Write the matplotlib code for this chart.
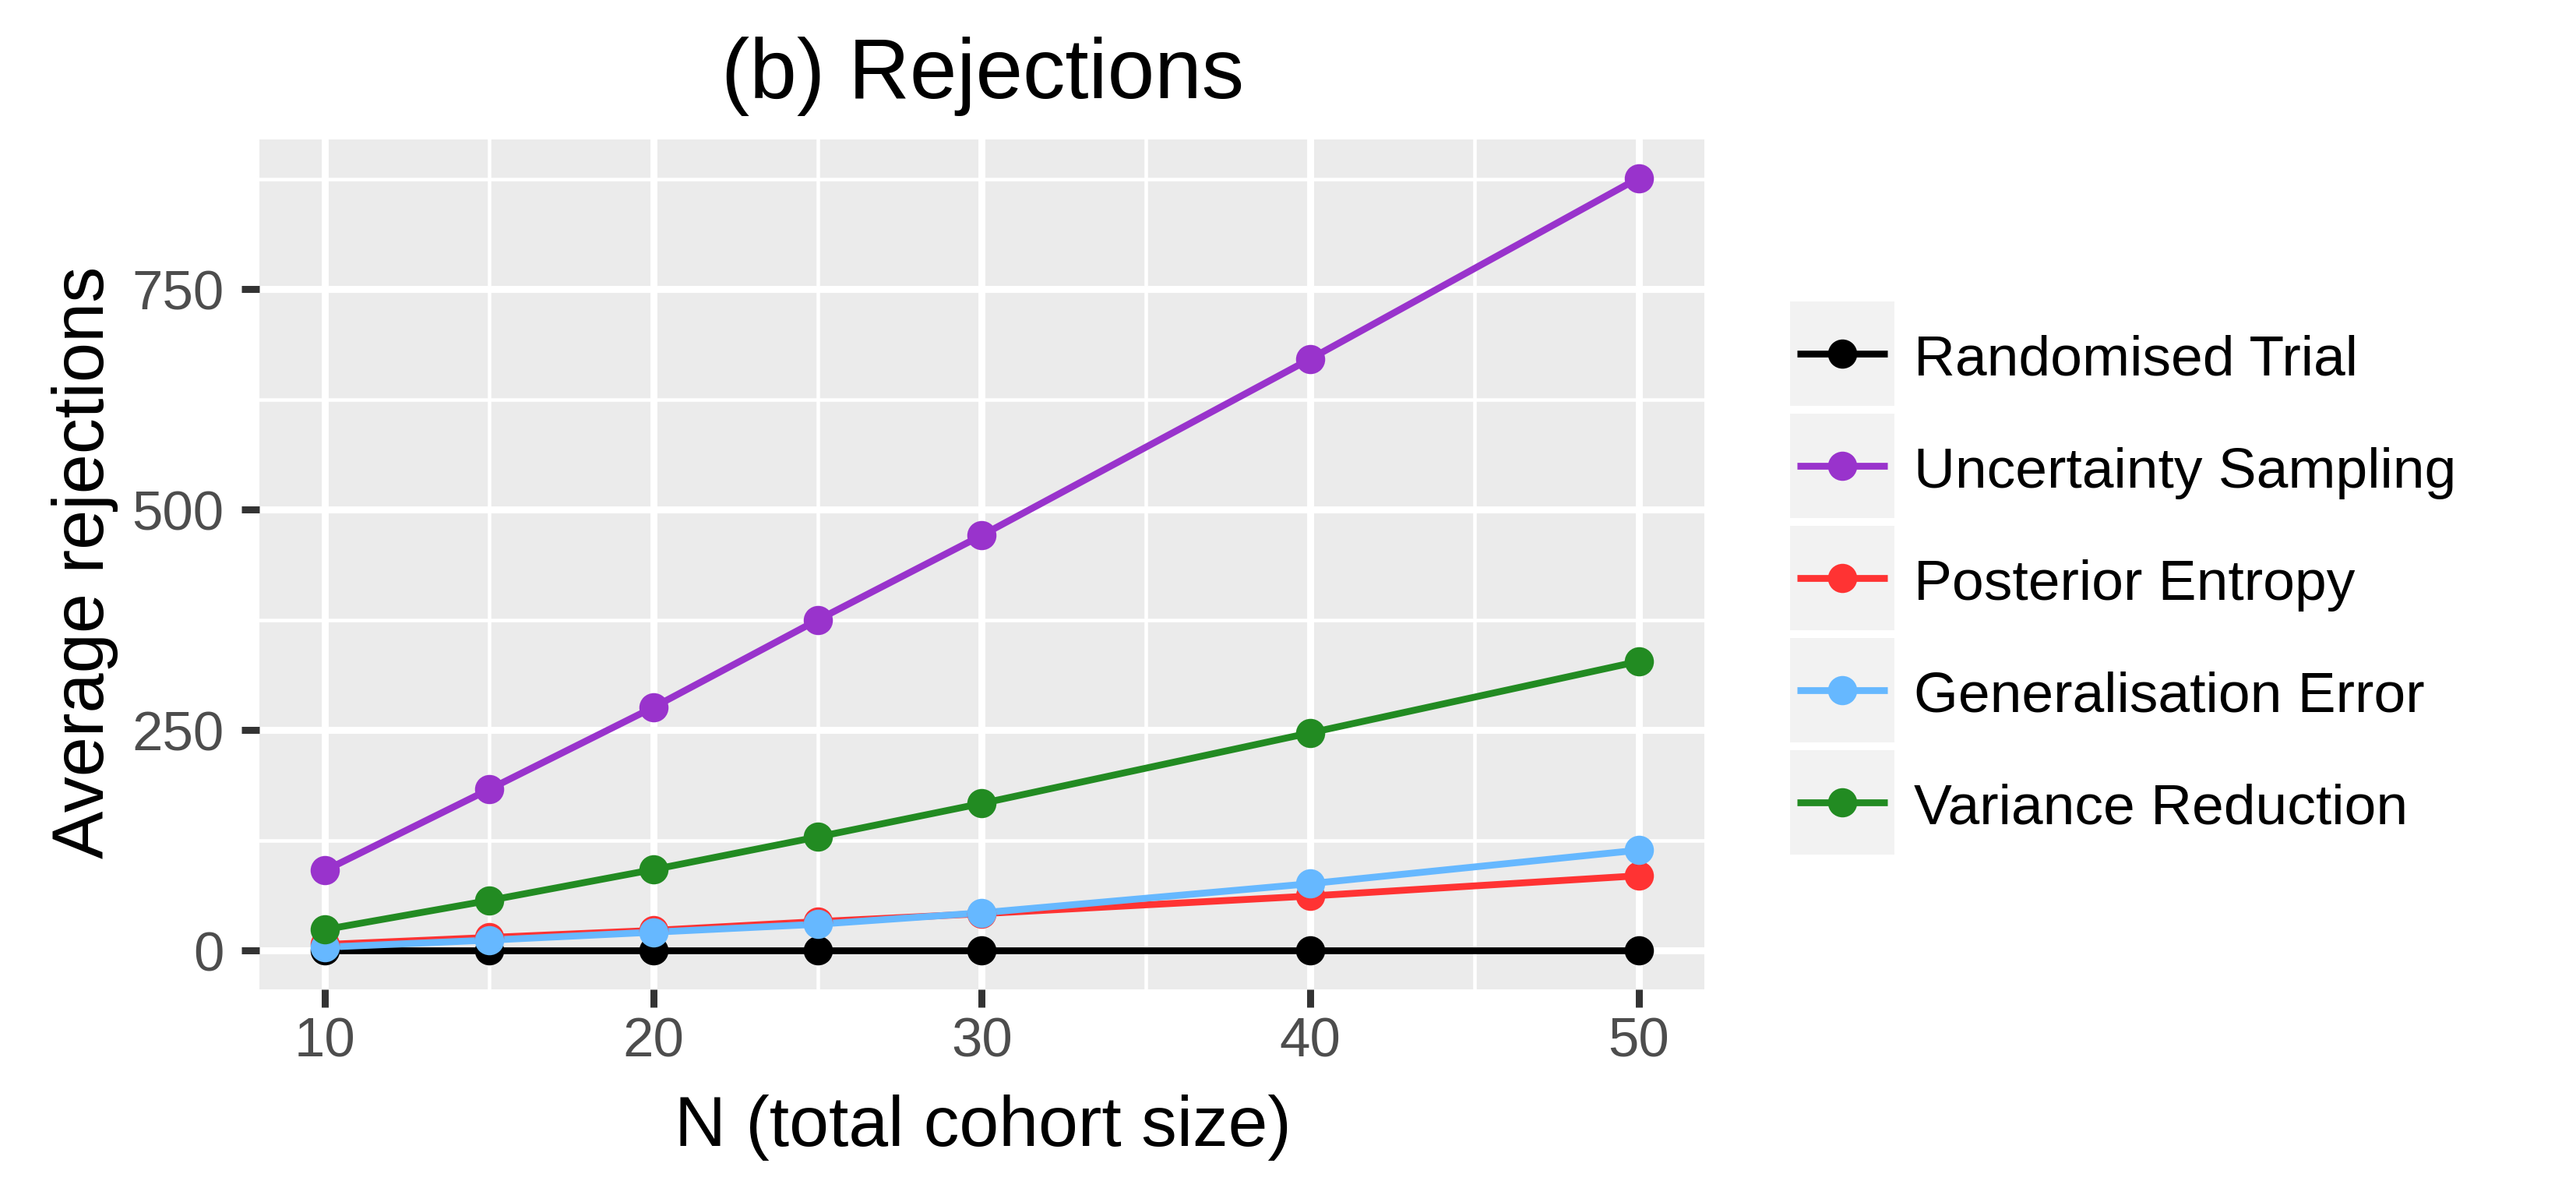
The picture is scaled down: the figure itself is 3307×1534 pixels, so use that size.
import matplotlib
matplotlib.use("Agg")
import matplotlib.pyplot as plt
from matplotlib.lines import Line2D
from matplotlib.patches import Rectangle

# ---------------- data ----------------
cohort_size = [10, 15, 20, 25, 30, 40, 50]
randomised_trial = [0, 0, 0, 0, 0, 0, 0]
uncertainty_sampling = [91, 183, 276, 375, 471, 671, 876]
posterior_entropy = [7, 15, 23, 33, 42, 62, 85]
generalisation_error = [4, 12, 21, 30, 43, 76, 114]
variance_reduction = [24, 57, 92, 129, 167, 247, 328]

series_names = ["Randomised Trial", "Uncertainty Sampling", "Posterior Entropy",
                "Generalisation Error", "Variance Reduction"]
series_values = [randomised_trial, uncertainty_sampling, posterior_entropy,
                 generalisation_error, variance_reduction]
series_colors = ["#000000", "#9933CC", "#FF3333", "#66B8FF", "#228B22"]

x_ticks = [10, 20, 30, 40, 50]
y_ticks = [0, 250, 500, 750]
title = "(b) Rejections"
x_label = "N (total cohort size)"
y_label = "Average rejections"

# ---------------- figure ----------------
W, H = 3307, 1535
DPI = 300
plt.rcParams['font.family'] = ['Liberation Sans', 'DejaVu Sans']
fig = plt.figure(figsize=(W / DPI, H / DPI), dpi=DPI)
fig.patch.set_facecolor("white")

def fx(px):
    return px / W

def fy(py):
    return 1 - py / H

left, right, top, bottom = 333, 2188, 180, 1271
ax = fig.add_axes([fx(left), fy(bottom), fx(right - left), (bottom - top) / H])
ax.set_facecolor("#EBEBEB")
for s in ax.spines.values():
    s.set_visible(False)

# ggplot-like expansion
xmin, xmax = min(cohort_size), max(cohort_size)
allv = [v for vals in series_values for v in vals]
ymin, ymax = min(allv), max(allv)
xr, yr = xmax - xmin, ymax - ymin
ax.set_xlim(xmin - 0.05 * xr, xmax + 0.05 * xr)
ax.set_ylim(ymin - 0.05 * yr, ymax + 0.05 * yr)

ax.set_xticks(x_ticks)
ax.set_yticks(y_ticks)
ax.set_xticks([15, 25, 35, 45], minor=True)
ax.set_yticks([125, 375, 625, 875], minor=True)
ax.grid(which="major", color="white", linewidth=2.15)
ax.grid(which="minor", color="white", linewidth=1.1)
ax.set_axisbelow(True)
ax.tick_params(which="major", length=5.5, width=2.15, color="#333333",
               labelcolor="#4D4D4D", labelsize=17.0)
ax.tick_params(axis="y", which="major", pad=5.5)
ax.tick_params(axis="x", which="major", pad=2.8)
ax.tick_params(which="minor", length=0)

LW = 2.1
MS = 9.0
for vals, c in zip(series_values, series_colors):
    ax.plot(cohort_size, vals, color=c, linewidth=LW, solid_capstyle="butt", zorder=2)
for vals, c in zip(series_values, series_colors):
    ax.plot(cohort_size, vals, linestyle="none", marker="o", markersize=MS,
            markerfacecolor=c, markeredgewidth=0, zorder=3)

# ---------------- texts ----------------
fig.text(fx(1262), fy(126), title, fontsize=26.1, ha="center", va="baseline", color="black")
fig.text(fx(1262), fy(1471), x_label, fontsize=21.9, ha="center", va="baseline", color="black")
fig.text(fx(133), fy(722), y_label, fontsize=22.1, ha="center", va="baseline",
         rotation=90, rotation_mode="anchor", color="black")

# ---------------- legend ----------------
key_x0, key_size, row0, pitch = 2298, 134, 388, 144
for i, (name, c) in enumerate(zip(series_names, series_colors)):
    y0 = row0 + i * pitch
    fig.patches.append(Rectangle((fx(key_x0), fy(y0 + key_size)), key_size / W, key_size / H,
                                 transform=fig.transFigure, facecolor="#F2F2F2",
                                 edgecolor="none", figure=fig))
    cy = y0 + key_size / 2
    fig.lines.append(Line2D([fx(key_x0 + 9), fx(key_x0 + key_size - 9)], [fy(cy), fy(cy)],
                            transform=fig.transFigure, color=c, linewidth=LW,
                            solid_capstyle="butt", figure=fig))
    fig.lines.append(Line2D([fx(key_x0 + key_size / 2)], [fy(cy)], transform=fig.transFigure,
                            linestyle="none", marker="o", markersize=MS, markerfacecolor=c,
                            markeredgewidth=0, figure=fig))
    fig.text(fx(2457), fy(cy + 27), name, fontsize=17.6, ha="left", va="baseline", color="black")

fig.savefig("out.png", dpi=DPI)
